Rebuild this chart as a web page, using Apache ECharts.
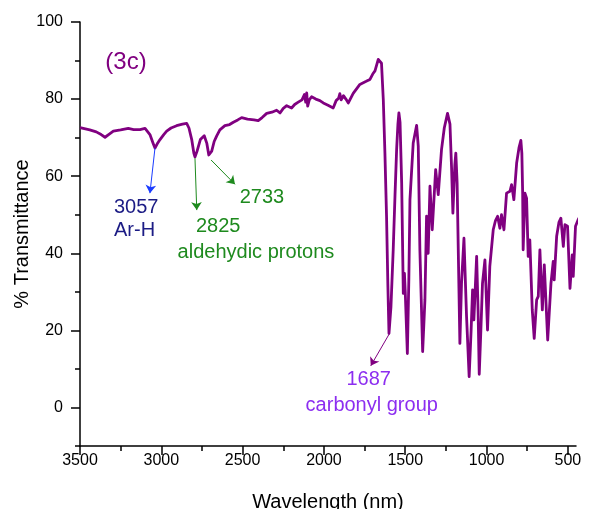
<!DOCTYPE html>
<html><head><meta charset="utf-8">
<script src="https://cdn.jsdelivr.net/npm/echarts@6/dist/echarts.min.js"></script>
<style>html,body{margin:0;padding:0;background:#fff}#c{width:605px;height:509px}</style>
</head><body><div id="c"></div>
<script>
const wavenumber = [3500,3490,3440,3400,3370,3346,3320,3295,3250,3203,3170,3131,3100,3070,3050,3039,3025,3008,2985,2967,2940,2906,2870,2844,2830,2813,2800,2793,2780,2760,2736,2720,2708,2701,2690,2675,2660,2640,2609,2580,2557,2530,
2506,2470,2430,2404,2380,2352,2320,2291,2270,2250,2229,2199,2180,2158,2135,2120,2112,2106,2100,2090,2076,2050,2025,2004,1975,1943,1925,1910,1902,1894,1880,1865,1850,1820,1779,1740,1717,1700,1686,1666,1655,1646,
1635,1625,1615,1607,1600,1588,1574,1563,1553,1545,1539,1532,1522,1512,1505,1500,1487,1478,1471,1451,1430,1420,1410,1393,1379,1369,1359,1348,1334,1313,1297,1277,1260,1240,1225,1215,1207,1195,1189,1181,1164,
1154,1139,1123,1107,1095,1086,1078,1061,1052,1045,1035,1025,1010,994,980,959,945,932,918,908,893,877,856,846,832,815,800,789,783,778,775,768,764,754,744,734,719,707,692,682,672,657,645,637,624,604,590,584,569,555,543,528,518,502,487,473,467,453,437,426,412,396,385,375,365,355,344,334,324,314];
const transmittance = [72.6,72.4,72.0,71.5,70.8,70.1,70.9,71.7,72.0,72.4,72.1,72.1,72.4,70.8,68.5,67.3,68.4,69.5,70.8,71.7,72.5,73.1,73.5,73.7,72.5,69.5,66.0,65.0,66.5,69.5,70.5,68.5,65.5,65.0,66.5,69.0,70.4,72.0,73.1,73.4,74.0,74.6,
75.2,74.8,74.6,74.4,75.2,76.3,76.6,77.1,76.4,77.6,78.3,77.7,78.6,79.2,79.8,81.2,79.2,81.6,78.2,79.8,80.6,80.0,79.6,79.0,78.4,77.7,79.6,80.2,81.4,79.8,80.9,80.0,79.0,81.5,83.8,84.6,85.1,86.5,87.3,90.3,90.4,89.3,
79.9,66,49.6,32,19.2,26,40.9,55,66.9,73.5,76.4,74,58.2,29.6,34.8,30,14.0,33,53.9,68.6,73.2,67.8,40.9,14.5,27.9,49.6,40.0,57.4,46.1,61.7,55.2,66.9,72.5,76.3,73.5,62,50.4,63,66.0,58.2,16.6,
32.2,43.9,23.6,8.0,20,30.5,22.7,39.2,25,8.6,20,32.2,38.3,20.1,36.6,46.1,48.5,49.6,46.5,50.0,46.1,55.6,56.1,57.8,53.9,63.4,67.5,69.3,66,55.6,40.9,50,55.6,54.3,39.2,43.5,25.3,17.9,27.9,28.8,40.9,25.3,37.0,37.0,17.5,32.2,37.9,33.1,44.4,48,49.1,41.8,47.4,47.0,30.9,39.6,34.0,47.0,48.7,49.6,51.8,51.3,50.4,44.4,27.9,24.9,32.2,43.5,34.0,40.9];

const xMajorTicks = [3500, 3000, 2500, 2000, 1500, 1000, 500];
const xMinorTicks = [3250, 2750, 2250, 1750, 1250, 750];
const yMajorTicks = [0, 20, 40, 60, 80, 100];
const yMinorTicks = [-10, 10, 30, 50, 70, 90];

const labelTexts = ['(3c)', '3057\nAr-H', '2733', '2825', 'aldehydic protons', '1687', 'carbonyl group'];
const labelPos = [[3217, 89.6], [3291, 48.8], [2381, 54.5], [2650, 46.9], [2418, 40.1], [1725, 7.2], [1706, 0.6]];
const labelColors = ['#800080', '#1c1c85', '#1e8a1e', '#1e8a1e', '#1e8a1e', '#8c2ef0', '#8c2ef0'];
const labelSizes = [24, 20, 20, 20, 20, 20, 20];
const labelAlign = ['center', 'left', 'center', 'center', 'center', 'center', 'center'];

const arrowFrom = [[3039, 67.3], [2793, 64.7], [2694, 64.2], [1598, 19.1]];
const arrowTo = [[3070, 55.6], [2782, 51.2], [2547, 57.9], [1712, 10.8]];
const arrowColors = ['#1a3cff', '#1e8a1e', '#1e8a1e', '#800080'];

const chart = echarts.init(document.getElementById('c'), null, {renderer: 'canvas'});
const font = 'Liberation Sans, Arial, sans-serif';
const seriesData = wavenumber.map((w, i) => [w, transmittance[i]]);
const plain = v => String(v);

chart.setOption({
  animation: false,
  backgroundColor: '#fff',
  grid: {left: 80, right: 29, top: 22, bottom: 63, containLabel: false, outerBoundsMode: 'none'},
  xAxis: [{
    type: 'value', inverse: true, min: 450, max: 3500,
    name: 'Wavelength (nm)', nameLocation: 'middle', nameGap: 46, nameMoveOverlap: false,
    nameTextStyle: {fontFamily: font, fontSize: 20, color: '#000'},
    axisLine: {show: true, onZero: false, lineStyle: {color: '#000', width: 1.5}},
    splitLine: {show: false},
    axisTick: {show: true, inside: false, length: 9, customValues: xMajorTicks, lineStyle: {color: '#000', width: 1.5}},
    axisLabel: {show: true, margin: 7, fontFamily: font, fontSize: 16, color: '#000', customValues: xMajorTicks, formatter: plain}
  }, {
    type: 'value', inverse: true, min: 450, max: 3500, position: 'bottom',
    axisLine: {show: false, onZero: false}, splitLine: {show: false}, axisLabel: {show: false},
    axisTick: {show: true, inside: false, length: 5, customValues: xMinorTicks, lineStyle: {color: '#000', width: 1.5}}
  }],
  yAxis: [{
    type: 'value', min: -10, max: 100,
    name: '% Transmittance', nameLocation: 'middle', nameGap: 48, nameRotate: 90, nameMoveOverlap: false,
    nameTextStyle: {fontFamily: font, fontSize: 20, color: '#000'},
    axisLine: {show: true, onZero: false, lineStyle: {color: '#000', width: 1.5}},
    splitLine: {show: false},
    axisTick: {show: true, inside: false, length: 9, customValues: yMajorTicks, lineStyle: {color: '#000', width: 1.5}},
    axisLabel: {show: true, margin: 17, fontFamily: font, fontSize: 16, color: '#000', customValues: yMajorTicks, formatter: plain}
  }, {
    type: 'value', min: -10, max: 100, position: 'left',
    axisLine: {show: false, onZero: false}, splitLine: {show: false}, axisLabel: {show: false},
    axisTick: {show: true, inside: false, length: 5, customValues: yMinorTicks, lineStyle: {color: '#000', width: 1.5}}
  }],
  series: [{
    type: 'line', xAxisIndex: 0, yAxisIndex: 0, data: seriesData,
    showSymbol: false, clip: false,
    lineStyle: {color: '#800080', width: 2.8, join: 'round'},
    markLine: {
      silent: true, symbol: ['none', 'arrow'], symbolSize: 8,
      label: {show: false},
      data: arrowFrom.map((f, i) => [
        {coord: f, lineStyle: {color: arrowColors[i], width: 1, type: 'solid'}, itemStyle: {color: arrowColors[i]}},
        {coord: arrowTo[i], itemStyle: {color: arrowColors[i]}}
      ])
    },
    markPoint: {
      silent: true, symbol: 'circle', symbolSize: 0,
      data: labelTexts.map((t, i) => ({
        coord: labelPos[i], value: t,
        label: {show: true, position: 'inside', formatter: t, color: labelColors[i], fontSize: labelSizes[i],
          fontFamily: font, align: labelAlign[i], lineHeight: 23}
      }))
    }
  }]
});
</script></body></html>
